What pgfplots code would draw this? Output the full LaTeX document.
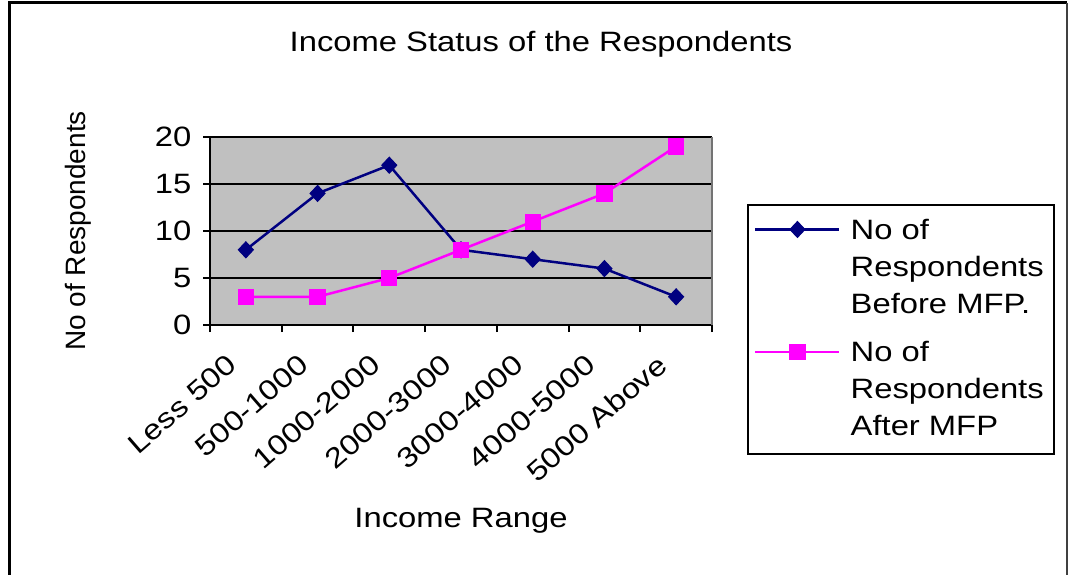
\documentclass[border=0pt]{standalone}
\usepackage{pgfplots}
\pgfplotsset{compat=1.18}
\usepackage{fontspec}
\setmainfont{Liberation Sans}[FakeStretch=1.17]
\newfontfamily\plainfont{Liberation Sans}
\definecolor{navyb}{RGB}{0,0,128}
\definecolor{magb}{RGB}{255,0,255}
\definecolor{plotgray}{RGB}{192,192,192}
\begin{document}
\fontsize{14pt}{17pt}\selectfont
\begin{tikzpicture}[x=1pt,y=1pt]
\path[use as bounding box] (0,0) rectangle (534.5,287);
\draw[line width=1.5pt,black] (4.5,-2) -- (4.5,285.5) -- (533.5,285.5);
\draw[line width=0.8pt,black!75] (533.5,285.5) -- (533.5,-2);
\node[font=\fontsize{14pt}{17pt}\selectfont] at (270.5,265) {Income Status of the Respondents};
\begin{axis}[
  at={(105pt,124.5pt)}, anchor=south west,
  scale only axis, width=251pt, height=94pt,
  xmin=-0.5, xmax=6.5, ymin=0, ymax=20,
  axis background/.style={fill=plotgray},
  ytick={0,5,...,20},
  xtick={-0.5,0.5,...,6.5},
  xticklabels={},
  extra x ticks={0,...,6},
  extra x tick labels={Less 500,500-1000,1000-2000,2000-3000,3000-4000,4000-5000,5000 Above},
  extra x tick style={major tick length=0pt},
  xtick align=outside, ytick align=outside,
  tick style={line width=1pt, black}, major tick length=3.5pt,
  tick label style={font=\fontsize{14pt}{17pt}\selectfont},
  /pgf/number format/assume math mode=true,
  xticklabel style={rotate=41, anchor=east, xshift=-12pt, yshift=-9pt},
  yticklabel style={xshift=-1pt},
  ymajorgrids, grid style={black, line width=1.2pt},
  axis x line*=bottom, axis y line*=left,
  axis line style={line width=1.2pt, black},
  xlabel={Income Range}, ylabel={\plainfont No of Respondents},
  label style={font=\fontsize{14pt}{17pt}\selectfont},
  xlabel style={at={(0.5,0)}, anchor=center, yshift=-98pt},
  ylabel style={at={(0,0.5)}, anchor=center, yshift=66pt},
  legend style={at={(1.0697,0.6436)}, anchor=north west, draw=black, line width=1.2pt,
    font=\fontsize{14pt}{18.5pt}\selectfont, inner xsep=3pt, inner ysep=5pt,
    nodes={align=left, anchor=base west, inner sep=2pt}, row sep=8pt,
    /tikz/every odd column/.append style={column sep=3pt}},
  legend cell align=left,
  legend image code/.code={
    \draw[#1, line width=1.25pt] (0pt,42pt) -- (42pt,42pt);
    \draw[#1, mark repeat=2, mark phase=2] plot coordinates {(0pt,42pt) (21pt,42pt) (42pt,42pt)};
  },
  clip=false,
]
\draw[black!55, line width=0.8pt] (axis cs:6.5,0) -- (axis cs:6.5,20);
\addplot[navyb, line width=1.25pt, mark=diamond*, mark size=4pt, mark options={fill=navyb, solid, line width=0.5pt, xscale=1.25}]
  coordinates {(0,8) (1,14) (2,17) (3,8) (4,7) (5,6) (6,3)};
\addlegendentry{No of\\Respondents\\Before MFP.}
\addplot[magb, line width=1.25pt, mark=square*, mark size=3.8pt, mark options={fill=magb, solid, line width=0.5pt}]
  coordinates {(0,3) (1,3) (2,5) (3,8) (4,11) (5,14) (6,19)};
\addlegendentry{No of\\Respondents\\After MFP}
\end{axis}
\end{tikzpicture}
\end{document}
